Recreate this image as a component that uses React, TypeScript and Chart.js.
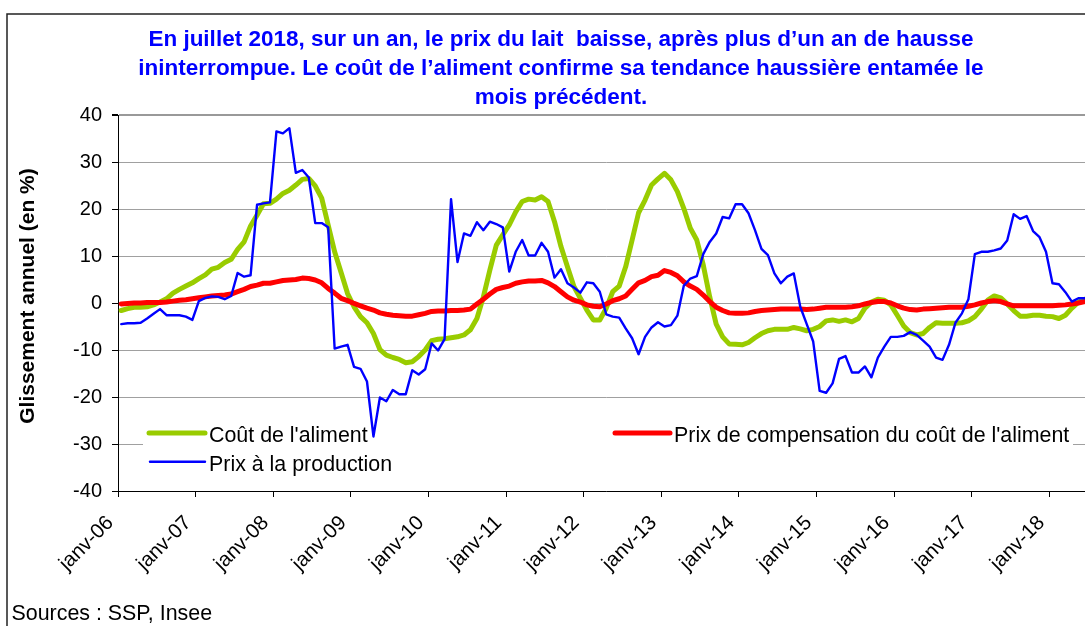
import React, { useEffect, useRef } from 'react';
import { Chart, registerables } from 'chart.js';

Chart.register(...registerables);

const MONTH_NAMES = ['janv', 'févr', 'mars', 'avr', 'mai', 'juin', 'juil', 'août', 'sept', 'oct', 'nov', 'déc'];
const YEARS = ['06', '07', '08', '09', '10', '11', '12', '13', '14', '15', '16', '17', '18'];
const MONTHS_IN_LAST_YEAR = 7; // janv-18 .. juil-18

const categories: string[] = [];
YEARS.forEach((y, yi) => {
  MONTH_NAMES.forEach((m, k) => {
    if (yi === YEARS.length - 1 && k >= MONTHS_IN_LAST_YEAR) return;
    categories.push(`${m}-${y}`);
  });
});

// Coût de l'aliment (glissement annuel, %)
const coutAliment = [
  -1.6, -1.2, -0.9, -0.9, -0.8, -0.4, 0.2, 0.9, 2.1, 2.9, 3.6, 4.3,
  5.2, 6.0, 7.2, 7.6, 8.6, 9.3, 11.4, 13.0, 16.4, 18.7, 21.1, 21.2,
  22.1, 23.3, 24.0, 25.1, 26.3, 26.5, 24.9, 22.3, 16.6, 10.9, 6.5, 2.0,
  -0.8, -2.9, -4.2, -6.5, -9.9, -11.1, -11.6, -12.0, -12.7, -12.5, -11.4, -10.0,
  -8.0, -7.7, -7.6, -7.4, -7.2, -6.8, -5.7, -3.3, 1.3, 7.0, 12.3, 14.5,
  16.6, 19.4, 21.6, 22.1, 21.9, 22.6, 21.6, 17.3, 12.0, 7.7, 3.5, 1.0,
  -1.5, -3.6, -3.6, -1.1, 2.4, 3.6, 7.7, 13.4, 19.2, 21.9, 25.1, 26.4,
  27.6, 26.2, 23.7, 20.1, 15.9, 13.4, 8.1, 1.3, -4.5, -7.2, -8.7, -8.8,
  -8.9, -8.4, -7.4, -6.5, -5.9, -5.6, -5.6, -5.6, -5.2, -5.5, -5.9, -5.6,
  -5.0, -3.8, -3.6, -3.9, -3.6, -4.0, -3.3, -1.1, 0.2, 0.8, 0.6, -0.4,
  -2.6, -4.9, -6.3, -6.8, -6.5, -5.2, -4.2, -4.3, -4.3, -4.3, -4.2, -3.8,
  -2.9, -1.3, 0.6, 1.5, 1.1, -0.2, -1.6, -2.8, -2.8, -2.6, -2.6, -2.8,
  -2.9, -3.3, -2.6, -1.1, 0.2, 0.8, 1.0,
];

// Prix de compensation du coût de l'aliment (%)
const prixCompensation = [
  -0.2, -0.1, 0.0, 0.0, 0.1, 0.1, 0.1, 0.2, 0.4, 0.6, 0.7, 0.9,
  1.1, 1.3, 1.5, 1.6, 1.7, 1.9, 2.4, 2.9, 3.5, 3.8, 4.2, 4.2,
  4.5, 4.8, 4.9, 5.0, 5.3, 5.2, 4.9, 4.3, 3.1, 2.1, 1.0, 0.5,
  -0.1, -0.6, -1.1, -1.5, -2.1, -2.4, -2.6, -2.7, -2.8, -2.8, -2.5, -2.2,
  -1.8, -1.7, -1.7, -1.6, -1.6, -1.5, -1.3, -0.2, 0.8, 1.9, 2.9, 3.3,
  3.6, 4.2, 4.5, 4.7, 4.7, 4.8, 4.3, 3.5, 2.4, 1.3, 0.6, 0.2,
  -0.4, -0.7, -0.8, -0.2, 0.5, 0.9, 1.5, 2.9, 4.3, 4.8, 5.6, 5.9,
  6.9, 6.5, 5.8, 4.5, 3.6, 2.9, 1.7, 0.3, -0.9, -1.6, -2.1, -2.2,
  -2.2, -2.1, -1.8, -1.6, -1.5, -1.4, -1.3, -1.3, -1.3, -1.3, -1.4, -1.3,
  -1.1, -0.9, -0.9, -0.9, -0.9, -0.8, -0.6, -0.2, 0.1, 0.3, 0.3, 0.0,
  -0.6, -1.1, -1.4, -1.5, -1.3, -1.2, -1.1, -1.0, -0.9, -0.9, -0.9, -0.7,
  -0.4, 0.0, 0.3, 0.5, 0.3, -0.2, -0.6, -0.6, -0.6, -0.6, -0.6, -0.6,
  -0.6, -0.5, -0.4, -0.2, 0.0, 0.3, 0.4,
];

// Prix à la production (%)
const prixProduction = [
  -4.5, -4.3, -4.3, -4.2, -3.3, -2.3, -1.3, -2.6, -2.6, -2.6, -2.9, -3.6,
  0.4, 1.1, 1.4, 1.3, 0.8, 1.5, 6.4, 5.6, 5.9, 20.9, 21.2, 21.4,
  36.5, 36.1, 37.2, 27.7, 28.3, 26.7, 17.0, 17.0, 16.1, -9.7, -9.3, -8.9,
  -13.6, -14.0, -16.7, -28.4, -20.1, -20.9, -18.5, -19.4, -19.4, -14.3, -15.2, -14.1,
  -8.6, -10.1, -7.7, 22.1, 8.7, 14.8, 14.3, 17.2, 15.5, 17.3, 16.8, 16.1,
  6.7, 10.9, 13.4, 10.1, 10.1, 12.8, 10.9, 5.4, 7.2, 4.2, 3.3, 2.2,
  4.4, 4.2, 2.4, -2.4, -2.9, -3.1, -5.4, -7.5, -10.9, -7.2, -5.2, -4.1,
  -5.0, -4.7, -2.7, 3.7, 5.2, 5.7, 10.4, 13.0, 14.8, 18.3, 18.0, 21.0,
  21.0, 19.1, 15.5, 11.5, 10.2, 6.3, 4.2, 5.6, 6.3, -0.8, -4.5, -8.2,
  -18.7, -19.1, -17.1, -11.9, -11.3, -14.8, -14.8, -13.5, -15.8, -11.6, -9.3, -7.2,
  -7.2, -7.0, -6.2, -6.8, -8.0, -9.3, -11.6, -12.1, -8.9, -4.2, -2.2, 0.8,
  10.4, 10.9, 10.9, 11.2, 11.6, 13.3, 18.9, 17.9, 18.5, 15.3, 14.0, 10.9,
  4.2, 4.0, 2.3, 0.3, 1.0, 1.0, 1.0,
];

const SERIES_LABELS = [
  "Coût de l'aliment",
  "Prix de compensation du coût de l'aliment",
  'Prix à la production',
];
const SERIES_COLORS = ['#99CC00', '#FF0000', '#0000FF'];
const SERIES_WIDTHS = [5, 5, 2.4];

const TITLE_LINES = [
  "En juillet 2018, sur un an, le prix du lait  baisse, après plus d’un an de hausse",
  "ininterrompue. Le coût de l’aliment confirme sa tendance haussière entamée le",
  'mois précédent.',
];
const Y_TITLE = 'Glissement annuel (en %)';
const SOURCE_TEXT = 'Sources : SSP, Insee';

const Y_MIN = -40;
const Y_MAX = 40;
const Y_STEP = 10;

const FONT = '"Liberation Sans", Arial, Helvetica, sans-serif';

const decorPlugin = {
  id: 'decor',
  beforeDraw(chart: any) {
    const ctx = chart.ctx;
    ctx.save();
    ctx.fillStyle = '#ffffff';
    ctx.fillRect(0, 0, chart.width, chart.height);
    // outer frame (cropped on the right and bottom)
    ctx.strokeStyle = '#222222';
    ctx.lineWidth = 1.5;
    ctx.beginPath();
    ctx.moveTo(7, chart.height + 2);
    ctx.lineTo(7, 14);
    ctx.lineTo(chart.width + 2, 14);
    ctx.stroke();
    ctx.restore();
  },
  beforeDatasetsDraw(chart: any) {
    const ctx = chart.ctx;
    ctx.save();
    // legend box inside plot area
    ctx.fillStyle = '#ffffff';
    ctx.fillRect(143, 418, 930, 60);
    const items = [
      { ds: 0, x0: 149, x1: 205, y: 433, tx: 209, ty: 442 },
      { ds: 1, x0: 615, x1: 670, y: 433, tx: 674, ty: 442 },
      { ds: 2, x0: 150, x1: 205, y: 461.7, tx: 209, ty: 470.5 },
    ];
    ctx.font = `21.4px ${FONT}`;
    ctx.textBaseline = 'alphabetic';
    ctx.textAlign = 'left';
    items.forEach((it) => {
      const ds = chart.data.datasets[it.ds];
      ctx.strokeStyle = ds.borderColor;
      ctx.lineWidth = ds.borderWidth;
      ctx.lineCap = 'round';
      ctx.beginPath();
      ctx.moveTo(it.x0, it.y);
      ctx.lineTo(it.x1, it.y);
      ctx.stroke();
      ctx.fillStyle = '#000000';
      ctx.fillText(ds.label, it.tx, it.ty);
    });
    ctx.restore();
  },
  afterDraw(chart: any) {
    const ctx = chart.ctx;
    ctx.save();
    // y axis title
    ctx.translate(28, (chart.chartArea.top + chart.chartArea.bottom) / 2 - 7);
    ctx.rotate(-Math.PI / 2);
    ctx.font = `bold 21px ${FONT}`;
    ctx.fillStyle = '#000000';
    ctx.textAlign = 'center';
    ctx.textBaseline = 'middle';
    ctx.fillText(Y_TITLE, 0, 0);
    ctx.restore();
    ctx.save();
    ctx.font = `21.4px ${FONT}`;
    ctx.fillStyle = '#000000';
    ctx.textAlign = 'left';
    ctx.textBaseline = 'alphabetic';
    ctx.fillText(SOURCE_TEXT, 11.5, 620);
    ctx.restore();
  },
};

export default function App() {
  const canvasRef = useRef<HTMLCanvasElement | null>(null);

  useEffect(() => {
    const canvas = canvasRef.current;
    if (!canvas) return;
    const orders = [3, 2, 1];
    const series = [coutAliment, prixCompensation, prixProduction];
    const chart = new Chart(canvas, {
      type: 'line',
      data: {
        labels: categories,
        datasets: series.map((d, k) => ({
          label: SERIES_LABELS[k],
          data: d,
          borderColor: SERIES_COLORS[k],
          backgroundColor: SERIES_COLORS[k],
          borderWidth: SERIES_WIDTHS[k],
          pointRadius: 0,
          pointHoverRadius: 0,
          tension: 0,
          fill: false,
          borderJoinStyle: 'round',
          borderCapStyle: 'round',
          order: orders[k],
        })),
      },
      options: {
        responsive: false,
        animation: false,
        events: [],
        layout: { padding: { left: 27.5, right: 5.5, top: 0, bottom: 0 } },
        plugins: {
          legend: { display: false },
          tooltip: { enabled: false },
          title: {
            display: true,
            text: TITLE_LINES,
            color: '#0000FF',
            font: { family: FONT, size: 22.5, weight: 'bold', lineHeight: '29.2px' },
            padding: { top: 25.1, bottom: 2.3 },
          },
        },
        scales: {
          x: {
            type: 'category',
            offset: true,
            grid: {
              offset: true,
              drawOnChartArea: false,
              drawTicks: true,
              tickLength: 6,
              color: (c: any) => (c.index % 12 === 0 ? '#000000' : 'rgba(0,0,0,0)'),
              tickColor: (c: any) => (c.index % 12 === 0 ? '#000000' : 'rgba(0,0,0,0)'),
            },
            border: { color: '#000000', width: 1 },
            ticks: {
              autoSkip: false,
              minRotation: 45,
              maxRotation: 45,
              padding: 14,
              labelOffset: -10.8,
              color: '#000000',
              font: { family: FONT, size: 20.5 },
              callback: (_v: any, i: number) => (i % 12 === 0 ? categories[i] : ''),
            },
            afterFit: (s: any) => {
              s.height = 135;
              s.paddingLeft = 0;
              s.paddingRight = 0;
            },
          },
          y: {
            min: Y_MIN,
            max: Y_MAX,
            ticks: {
              stepSize: Y_STEP,
              padding: 10,
              color: '#000000',
              font: { family: FONT, size: 20 },
            },
            grid: {
              color: (c: any) => (c.tick && c.tick.value === Y_MAX ? '#999999' : '#a0a0a0'),
              lineWidth: (c: any) => (c.tick && c.tick.value === Y_MAX ? 2 : 1),
              tickLength: 6,
              tickColor: '#000000',
            },
            border: { color: '#000000', width: 1 },
            afterFit: (s: any) => {
              s.width = 118 - 27.5;
              s.paddingTop = 0;
              s.paddingBottom = 0;
            },
          },
        },
      },
      plugins: [decorPlugin],
    } as any);
    return () => chart.destroy();
  }, []);

  return (
    <div
      style={{
        position: 'fixed',
        left: 0,
        top: 0,
        width: 1085,
        height: 626,
        overflow: 'hidden',
        background: '#ffffff',
      }}
    >
      <canvas ref={canvasRef} width={1100} height={626} style={{ display: 'block' }} />
    </div>
  );
}
